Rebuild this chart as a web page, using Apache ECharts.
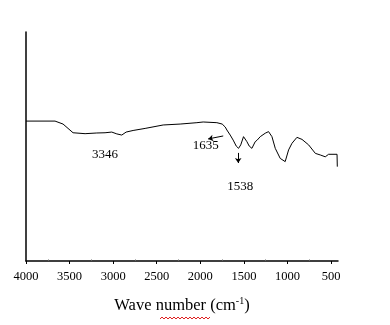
<!DOCTYPE html>
<html><head><meta charset="utf-8">
<script src="https://cdn.jsdelivr.net/npm/echarts@6/dist/echarts.min.js"></script>
<style>html,body{margin:0;padding:0;background:#fff}#c{width:390px;height:325px}</style>
</head><body><div id="c"></div>
<script>
var wavenumbers = [4000,3667,3575,3460,3322,3188,3093,3016,2958,2901,2851,2771,2633,2426,2231,2039,1967,1810,1749,1714,1695,1657,1623,1588,1561,1536,1504,1465,1439,1408,1370,1347,1312,1255,1217,1178,1140,1083,1026,987,948,891,833,757,680,623,566,528,431,428];
var transmittance = [61.1,61.1,59.8,56.0,55.6,55.9,56.0,56.3,55.5,55.0,56.3,57.0,57.9,59.4,59.8,60.4,60.7,60.4,59.8,58.5,57.2,55.0,52.8,50.2,49.2,50.7,54.3,52.1,50.2,49.2,52.1,52.8,54.3,55.8,56.5,54.3,49.2,44.8,43.4,48.5,51.4,54.0,53.1,50.7,47.0,46.3,45.5,46.6,46.6,41.2];
var majorTicks = [4000,3500,3000,2500,2000,1500,1000,500];
var minorTicks = [3750,3250,2750,2250,1750,1250,750];
var annotationTexts = ['3346','1635','1538'];
var annotationPos = [[3093,46.3],[1938,50.3],[1542,32.4]];
var arrows = [[[1737,54.6],[1910,53.3]],[[1565,47.2],[1565,42.8]]];

var serif = '"Liberation Serif","Times New Roman",serif';
var data = wavenumbers.map(function(w,i){return [w, transmittance[i]];});

// red wavy spell-check underline (decoration)
var wavy = [];
for (var k = 0; k <= 25; k++) { wavy.push([160 + k*2, 318 + (k%2 ? -1 : 1)]); }

var chart = echarts.init(document.getElementById('c'));
chart.setOption({
  animation:false,
  backgroundColor:'#fff',
  grid:{left:26,right:52,top:32,bottom:64},
  graphic:[{type:'polyline',shape:{points:wavy},style:{stroke:'#e02020',lineWidth:1,fill:null},silent:true}],
  xAxis:[{
    type:'value', inverse:true, min:420, max:4000,
    name:'{a|Wave number (cm}{s|-1}{a|)}', nameLocation:'middle', nameGap:35,
    nameTextStyle:{rich:{
      a:{fontFamily:serif,fontSize:16.5,color:'#000'},
      s:{fontFamily:serif,fontSize:10,color:'#000',verticalAlign:'top',padding:[0,0,9,0]}
    }},
    axisLine:{show:true,onZero:false,lineStyle:{color:'#000',width:1.5}},
    axisTick:{show:true,inside:false,length:3,customValues:majorTicks,lineStyle:{color:'#000',width:1}},
    axisLabel:{show:true,customValues:majorTicks,fontFamily:serif,fontSize:12.5,color:'#000',margin:9,
      formatter:function(v){return String(v);}},
    splitLine:{show:false}
  },{
    type:'value', inverse:true, min:420, max:4000, position:'bottom',
    axisLine:{show:false},
    axisTick:{show:true,inside:true,length:1.5,customValues:minorTicks,lineStyle:{color:'#666',width:1}},
    axisLabel:{show:false},
    splitLine:{show:false}
  }],
  yAxis:{
    type:'value', min:0, max:100,
    axisLine:{show:true,onZero:false,lineStyle:{color:'#000',width:1.5}},
    axisTick:{show:false}, axisLabel:{show:false}, splitLine:{show:false}
  },
  series:[{
    type:'line', data:data, showSymbol:false, symbol:'none', smooth:false,
    lineStyle:{color:'#000',width:1},
    markPoint:{
      symbol:'circle', symbolSize:0, silent:true,
      label:{show:true,position:'inside',fontFamily:serif,fontSize:13,color:'#000',formatter:function(p){return p.name;}},
      data:annotationTexts.map(function(t,i){return {name:t,coord:annotationPos[i]};})
    },
    markLine:{
      silent:true, symbol:['none','arrow'], symbolSize:5,
      label:{show:false},
      lineStyle:{color:'#000',width:1,type:'solid'},
      data:arrows.map(function(a){return [{coord:a[0]},{coord:a[1]}];})
    }
  }]
});
</script></body></html>
